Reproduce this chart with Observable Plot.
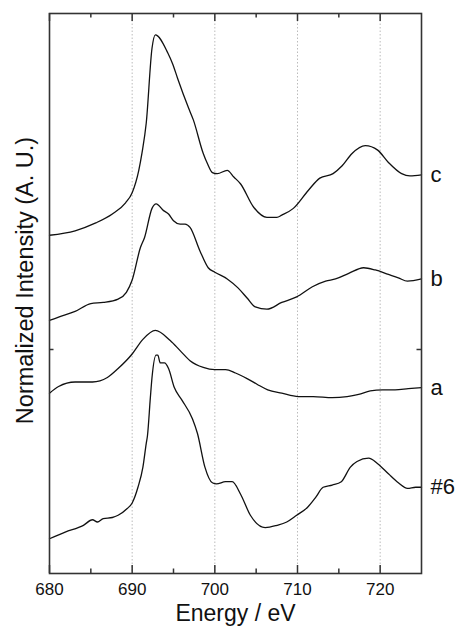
<!DOCTYPE html>
<html>
<head>
<meta charset="utf-8">
<script src="https://cdn.jsdelivr.net/npm/d3@7"></script>
<script src="https://cdn.jsdelivr.net/npm/@observablehq/plot@0.6"></script>
<style>
  body { margin: 0; background: #fff; }
  #chart svg { display: block; }
</style>
</head>
<body>
<div id="chart"></div>
<script>
// Series c
const energyC = [680,683.1,685.6,687.6,689.2,690,690.8,691.2,691.7,692.4,692.8,694.3,694.9,695.5,696.8,697.4,698.6,699.1,699.7,700.3,701.5,702.3,703.1,704.7,706.3,707.5,708.1,709.5,711.3,712.7,714.3,715.4,716.6,718.2,719.7,721,722.6,723.6,725];
const valueC  = [3.02,3.06,3.13,3.21,3.31,3.40,3.60,3.76,4.02,4.69,4.81,4.65,4.55,4.42,4.16,4.05,3.75,3.66,3.58,3.57,3.60,3.54,3.48,3.27,3.18,3.18,3.20,3.26,3.42,3.53,3.57,3.64,3.75,3.82,3.78,3.67,3.57,3.55,3.56];
// Series b
const energyB = [680,681.1,683.1,685,686.5,688.3,689.3,690,691,691.5,692.4,692.9,693.8,694.4,695,695.8,696.4,697,698.2,699.2,700,701.5,702.8,703.9,704.9,706.3,708.1,709.9,711.8,713.4,714.6,716.2,718,719.4,721,722.2,723.3,725];
const valueB  = [2.26,2.29,2.34,2.41,2.42,2.45,2.51,2.62,2.91,3.00,3.26,3.30,3.24,3.21,3.15,3.12,3.12,3.09,2.88,2.73,2.69,2.63,2.55,2.46,2.38,2.36,2.42,2.47,2.56,2.61,2.63,2.68,2.73,2.71,2.67,2.64,2.61,2.63];
// Series a
const energyA = [680,681.1,683.1,685.2,687,688.3,690,691.3,692.8,694.6,695.8,697,698.6,700,701.3,702.5,703.9,705.1,706.4,708.1,710.1,711.9,714.2,716,717.4,718.8,720.3,721.8,723.4,725];
const valueA  = [1.61,1.67,1.71,1.71,1.75,1.83,1.96,2.09,2.17,2.08,1.99,1.90,1.84,1.82,1.82,1.79,1.74,1.69,1.64,1.61,1.58,1.58,1.57,1.58,1.60,1.63,1.64,1.64,1.65,1.66];
// Series #6
const energy6 = [680,681.9,684.1,685.2,685.8,686.5,687.6,688.3,689.4,690,690.7,691.3,691.7,691.85,692.2,692.4,692.9,693.1,693.4,693.9,694.4,695.1,696,697.3,697.9,698.8,699.7,700.2,701.3,702.1,703.1,704.3,706.1,707.5,708.7,709.9,711.2,712.2,713.1,714.2,715.3,716.4,717.2,718.6,719.7,721,722.2,723.3,724.3,725];
const value6  = [0.31,0.37,0.43,0.48,0.46,0.49,0.50,0.52,0.58,0.63,0.77,0.95,1.16,1.23,1.57,1.75,1.95,1.95,1.88,1.88,1.83,1.66,1.55,1.38,1.25,0.95,0.81,0.80,0.82,0.82,0.71,0.52,0.41,0.43,0.46,0.52,0.59,0.68,0.77,0.79,0.82,0.95,1.00,1.03,0.98,0.89,0.81,0.76,0.77,0.77];

const seriesLabels = ["c", "b", "a", "#6"];
const xTicks = [680, 690, 700, 710, 720];
const xMinorTicks = [685, 695, 705, 715];
const gridLines = [690, 700, 710, 720];
const yTicks = [2];

const series = [
  {label: seriesLabels[0], energy: energyC, value: valueC},
  {label: seriesLabels[1], energy: energyB, value: valueB},
  {label: seriesLabels[2], energy: energyA, value: valueA},
  {label: seriesLabels[3], energy: energy6, value: value6}
];
const rows = series.flatMap(s => s.energy.map((e, i) => ({label: s.label, energy: e, value: s.value[i]})));
const ends = series.map(s => ({label: s.label, energy: s.energy[s.energy.length - 1], value: s.value[s.value.length - 1]}));

const W = 465, H = 632, mL = 49, mR = 44, mT = 13, mB = 59;
const fw = W - mL - mR, fh = H - mT - mB;

const chart = Plot.plot({
  width: W, height: H,
  marginLeft: mL, marginRight: mR, marginTop: mT, marginBottom: mB,
  style: {fontFamily: "'Liberation Sans', Arial, sans-serif", background: "#fff", color: "#111", overflow: "visible"},
  x: {domain: [680, 725]},
  y: {domain: [0, 5], axis: null},
  marks: [
    Plot.ruleX(gridLines, {stroke: "#bbb", strokeWidth: 1, strokeDasharray: "1.5,2"}),
    Plot.line(rows, {x: "energy", y: "value", z: "label", stroke: "#111", strokeWidth: 1.3, curve: "monotone-x"}),
    Plot.frame({stroke: "#333", strokeWidth: 1.6}),
    Plot.ruleX(xTicks, {insetTop: fh - 8, stroke: "#333", strokeWidth: 1.5}),
    Plot.ruleX(xTicks, {insetBottom: fh - 8, stroke: "#333", strokeWidth: 1.5}),
    Plot.ruleX(xMinorTicks, {insetTop: fh - 4.5, stroke: "#333", strokeWidth: 1.5}),
    Plot.ruleX(xMinorTicks, {insetBottom: fh - 4.5, stroke: "#333", strokeWidth: 1.5}),
    Plot.ruleY(yTicks, {insetRight: fw - 4.5, stroke: "#333", strokeWidth: 1.5}),
    Plot.ruleY(yTicks, {insetLeft: fw - 4.5, stroke: "#333", strokeWidth: 1.5}),
    Plot.axisX(xTicks, {tickSize: 0, tickPadding: 9, fontSize: 17, label: null, fill: "#111"}),
    Plot.text(["Energy / eV"], {frameAnchor: "bottom", dy: 47, fontSize: 23, fill: "#111"}),
    Plot.text(["Normalized Intensity (A. U.)"], {frameAnchor: "left", textAnchor: "middle", dx: -24, dy: -13, rotate: -90, fontSize: 23.5, fill: "#111"}),
    Plot.text(ends, {x: "energy", y: "value", text: "label", dx: 9, textAnchor: "start", fontSize: 22, fill: "#111"})
  ]
});
document.getElementById("chart").append(chart);
</script>
</body>
</html>
